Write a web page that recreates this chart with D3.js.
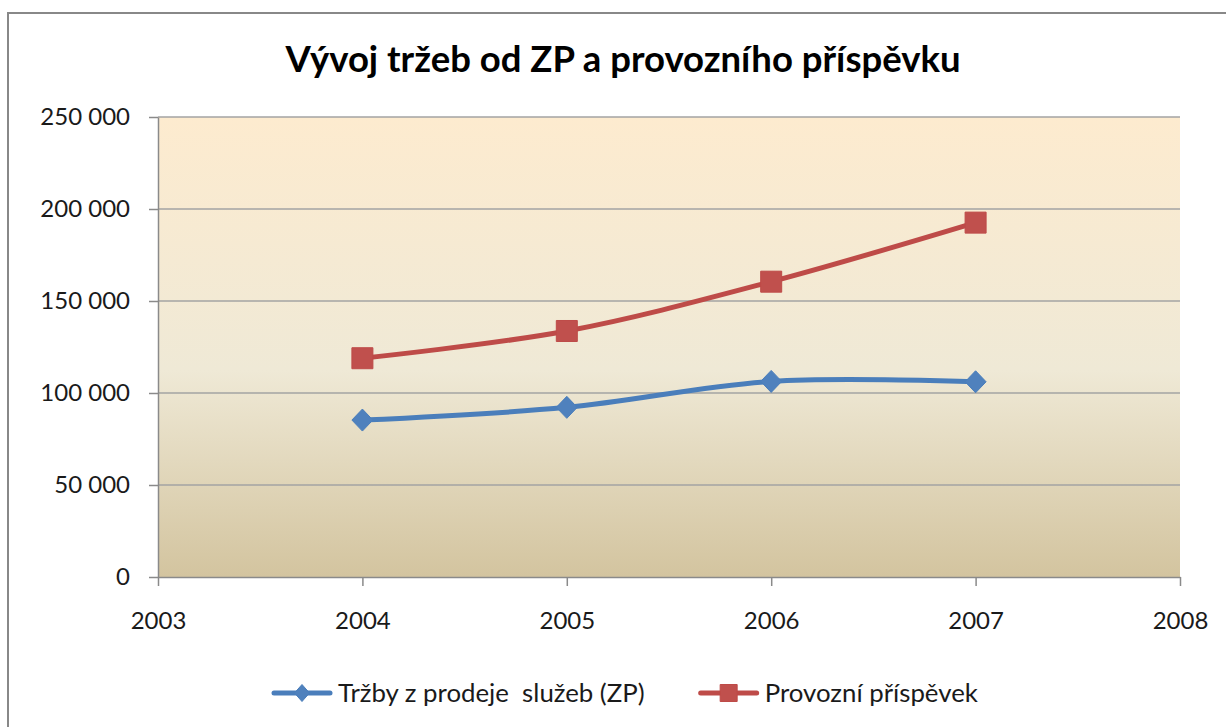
<!DOCTYPE html>
<html>
<head>
<meta charset="utf-8">
<script src="https://cdnjs.cloudflare.com/ajax/libs/d3/7.8.5/d3.min.js"></script>
<style>
  html, body { margin: 0; padding: 0; background: #fff; }
  svg { display: block; }
</style>
</head>
<body>
<div id="chart"></div>
<script>
// Data
var years = [2004, 2005, 2006, 2007];
var trzbyZP = [85300, 92200, 106300, 106100];
var provozniPrispevek = [118900, 133700, 160500, 192600];
var seriesNames = ['Tržby z prodeje  služeb (ZP)', 'Provozní příspěvek'];
var yTicks = [0, 50000, 100000, 150000, 200000, 250000];
var xTicks = [2003, 2004, 2005, 2006, 2007, 2008];
var titleText = 'Vývoj tržeb od ZP a provozního příspěvku';

var attrs = {
  svgWidth: 1226,
  svgHeight: 727,
  plotLeft: 158,
  plotRight: 1180,
  plotTop: 117,
  plotBottom: 577,
  font: 'Lato, "Open Sans", sans-serif',
  textFill: '#1a1a1a',
  gridColor: '#a3a3a3',
  axisColor: '#8a8a8a'
};

var series = [
  { name: seriesNames[0], values: trzbyZP, line: '#4a7ebb', fill: '#4f81bd', marker: 'diamond' },
  { name: seriesNames[1], values: provozniPrispevek, line: '#be4b48', fill: '#c0504d', marker: 'square' }
];

var svg = d3.select('#chart').append('svg')
  .attr('width', attrs.svgWidth)
  .attr('height', attrs.svgHeight)
  .attr('font-family', attrs.font);

// gradient for the plot area
var defs = svg.append('defs');
var grad = defs.append('linearGradient')
  .attr('id', 'plotGrad')
  .attr('x1', 0).attr('y1', 0).attr('x2', 0).attr('y2', 1);
grad.append('stop').attr('offset', '0%').attr('stop-color', '#fdebcf');
grad.append('stop').attr('offset', '55%').attr('stop-color', '#efe9d6');
grad.append('stop').attr('offset', '100%').attr('stop-color', '#d3c49f');

// outer chart border (runs off the right and bottom edge)
svg.append('rect')
  .attr('x', 8).attr('y', 13)
  .attr('width', 1260).attr('height', 760)
  .attr('fill', '#fff')
  .attr('stroke', '#888')
  .attr('stroke-width', 2);

var x = d3.scaleLinear().domain([2003, 2008]).range([attrs.plotLeft, attrs.plotRight]);
var y = d3.scaleLinear().domain([0, 250000]).range([attrs.plotBottom, attrs.plotTop]);

// plot background
svg.append('rect')
  .attr('x', x(2003)).attr('y', y(250000))
  .attr('width', x(2008) - x(2003))
  .attr('height', y(0) - y(250000))
  .attr('fill', 'url(#plotGrad)');

// gridlines
svg.append('g').selectAll('line')
  .data(yTicks.filter(function (d) { return d > 0; }))
  .enter().append('line')
  .attr('x1', x(2003)).attr('x2', x(2008))
  .attr('y1', function (d) { return y(d); })
  .attr('y2', function (d) { return y(d); })
  .attr('stroke', attrs.gridColor)
  .attr('stroke-width', 1.5);

var fmt = function (d) { return d3.format(',')(d).replace(/,/g, '\u00a0'); };

var yAxis = svg.append('g')
  .attr('transform', 'translate(' + x(2003) + ',0)')
  .call(d3.axisLeft(y).tickValues(yTicks).tickFormat(fmt).tickSize(9).tickSizeOuter(0).tickPadding(19));

var xAxis = svg.append('g')
  .attr('transform', 'translate(0,' + y(0) + ')')
  .call(d3.axisBottom(x).tickValues(xTicks).tickFormat(d3.format('d')).tickSize(9).tickSizeOuter(0).tickPadding(26));

[yAxis, xAxis].forEach(function (ax) {
  ax.select('.domain').attr('stroke', attrs.axisColor).attr('stroke-width', 1.5);
  ax.selectAll('.tick line').attr('stroke', attrs.axisColor).attr('stroke-width', 1.5);
  ax.selectAll('.tick text')
    .attr('fill', attrs.textFill)
    .attr('font-size', 24)
    .attr('font-family', attrs.font);
});

// lines
var line = d3.line()
  .x(function (d, i) { return x(years[i]); })
  .y(function (d) { return y(d); })
  .curve(d3.curveCardinal.tension(0));

// marker shapes, w = width, h = height
function markerPath(type, w, h) {
  var p = d3.path();
  if (type === 'diamond') {
    p.moveTo(0, -h / 2); p.lineTo(w / 2, 0); p.lineTo(0, h / 2); p.lineTo(-w / 2, 0);
  } else {
    p.rect(-w / 2, -h / 2, w, h);
  }
  p.closePath();
  return p.toString();
}

series.forEach(function (s) {
  var g = svg.append('g');
  g.append('path')
    .attr('d', line(s.values))
    .attr('fill', 'none')
    .attr('stroke', s.line)
    .attr('stroke-width', 5)
    .attr('stroke-linecap', 'round');
  g.selectAll('path.marker')
    .data(s.values)
    .enter().append('path')
    .attr('class', 'marker')
    .attr('transform', function (d, i) { return 'translate(' + x(years[i]) + ',' + y(d) + ')'; })
    .attr('d', s.marker === 'diamond' ? markerPath('diamond', 21, 22) : markerPath('square', 21, 21))
    .attr('fill', s.fill)
    .attr('stroke', s.line)
    .attr('stroke-width', 1);
});

// title
svg.append('text')
  .attr('x', 623).attr('y', 72)
  .attr('text-anchor', 'middle')
  .attr('font-size', 36.5)
  .attr('font-weight', 'bold')
  .attr('fill', '#000')
  .text(titleText);

// legend
var legend = svg.append('g').attr('transform', 'translate(0,693)');
var lx = 274;
series.forEach(function (s) {
  var item = legend.append('g').attr('transform', 'translate(' + lx + ',0)');
  item.append('line')
    .attr('x1', 0).attr('x2', 56)
    .attr('stroke', s.line).attr('stroke-width', 5)
    .attr('stroke-linecap', 'round');
  item.append('path')
    .attr('transform', 'translate(28,0)')
    .attr('d', s.marker === 'diamond' ? markerPath('diamond', 15, 17) : markerPath('square', 17, 17))
    .attr('fill', s.fill)
    .attr('stroke', s.line);
  var t = item.append('text')
    .attr('x', 64).attr('y', 9)
    .attr('font-size', 25.8)
    .attr('fill', attrs.textFill)
    .style('white-space', 'pre')
    .text(s.name);
  lx += 64 + t.node().getComputedTextLength() + 56;
});
</script>
</body>
</html>
